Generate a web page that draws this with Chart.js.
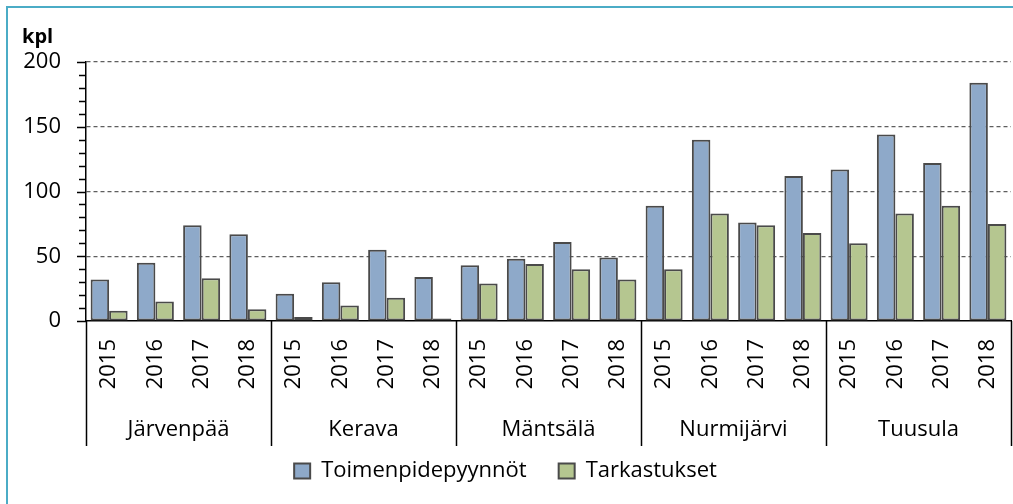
<!DOCTYPE html>
<html>
<head>
<meta charset="utf-8">
<script src="https://cdn.jsdelivr.net/npm/chart.js@4.4.1/dist/chart.umd.min.js"></script>
<style>
  html, body { margin: 0; padding: 0; background: #fff; }
  #wrap { width: 1013px; height: 504px; position: relative; }
</style>
</head>
<body>
<div id="wrap"><canvas id="chart"></canvas></div>
<script>
// Municipal inspection requests and inspections per year, grouped by town.

const towns = ['Järvenpää', 'Kerava', 'Mäntsälä', 'Nurmijärvi', 'Tuusula'];
const years = ['2015', '2016', '2017', '2018'];
const toimenpidepyynnot = [32, 45, 74, 67, 21, 30, 55, 34, 43, 48, 61, 49, 89, 140, 76, 112, 117, 144, 122, 184];
const tarkastukset = [8, 15, 33, 9, 3, 12, 18, 2, 29, 44, 40, 32, 40, 83, 74, 68, 60, 83, 89, 75];
const yTicks = [0, 50, 100, 150, 200];
const unitLabel = 'kpl';

const fontFamily = '"Open Sans", "DejaVu Sans", sans-serif';
const legendPadding = 32;

// one x label per year, repeated for every town
const labels = [];
towns.forEach(() => years.forEach(y => labels.push(y)));

// #region Extra drawing: frame, minor ticks, town groups, unit label
const decorPlugin = {
    id: 'decor',
    beforeInit(chart) {
        // fix the legend height so the plot area lands where it should
        const origFit = chart.legend.fit;
        chart.legend.fit = function() {
            origFit.call(this);
            this.height = 44 + legendPadding;
        };
    },
    afterDraw(chart) {
        const ctx = chart.ctx;
        const x = chart.scales.x;
        const y = chart.scales.y;
        const area = chart.chartArea;
        ctx.save();

        // light blue frame, top and left
        ctx.strokeStyle = '#4bacc6';
        ctx.lineWidth = 2;
        ctx.beginPath();
        ctx.moveTo(7, 504);
        ctx.lineTo(7, 7);
        ctx.lineTo(1013, 7);
        ctx.stroke();

        // y ticks, major and minor
        ctx.strokeStyle = '#000';
        ctx.lineWidth = 1.5;
        ctx.beginPath();
        for (let v = yTicks[0]; v <= yTicks[yTicks.length - 1]; v += 10) {
            const py = Math.round(y.getPixelForValue(v)) + 0.5;
            const len = v % 50 === 0 ? 9 : 7;
            ctx.moveTo(area.left - len, py);
            ctx.lineTo(area.left, py);
        }
        ctx.stroke();

        // town separators and names
        const groupBottom = 446;
        ctx.beginPath();
        for (let i = 0; i <= towns.length; i++) {
            const px = Math.round(x.getPixelForValue(i * years.length - 0.5)) + 0.5;
            ctx.moveTo(px, area.bottom);
            ctx.lineTo(px, groupBottom);
        }
        ctx.stroke();

        ctx.fillStyle = '#000';
        ctx.font = '22px ' + fontFamily;
        ctx.textAlign = 'center';
        ctx.textBaseline = 'middle';
        towns.forEach((town, i) => {
            const x0 = x.getPixelForValue(i * years.length - 0.5);
            const x1 = x.getPixelForValue((i + 1) * years.length - 0.5);
            ctx.fillText(town, (x0 + x1) / 2, 430);
        });

        // unit label above the axis
        ctx.font = 'bold 20px ' + fontFamily;
        ctx.textAlign = 'left';
        ctx.textBaseline = 'alphabetic';
        ctx.fillText(unitLabel, 22, 43);

        ctx.restore();
    }
};
// #endregion

const config = {
    type: 'bar',
    data: {
        labels: labels,
        datasets: [{
            label: 'Toimenpidepyynnöt',
            data: toimenpidepyynnot,
            backgroundColor: '#8ea9c9',
            borderColor: '#4a4a4a',
            borderWidth: 2,
            borderSkipped: false,
            categoryPercentage: 0.8,
            barPercentage: 1.0
        }, {
            label: 'Tarkastukset',
            data: tarkastukset,
            backgroundColor: '#b5c690',
            borderColor: '#4a4a4a',
            borderWidth: 2,
            borderSkipped: false,
            categoryPercentage: 0.8,
            barPercentage: 1.0
        }]
    },
    options: {
        responsive: true,
        maintainAspectRatio: false,
        animation: false,
        layout: {
            padding: { top: 62, right: 2, left: 0, bottom: 0 }
        },
        plugins: {
            legend: {
                position: 'bottom',
                labels: {
                    boxWidth: 16,
                    boxHeight: 15,
                    padding: legendPadding,
                    color: '#000',
                    font: { family: fontFamily, size: 22 }
                }
            },
            tooltip: { enabled: false }
        },
        scales: {
            x: {
                z: 1,
                afterFit(scale) {
                    // plot bottom at 321: 504 - legend - this height
                    scale.height = 504 - 321 - (44 + legendPadding);
                    scale.paddingLeft = 0;
                    scale.paddingRight = 0;
                },
                grid: { display: false, drawTicks: false },
                border: { display: true, color: '#000', width: 1.5 },
                ticks: {
                    autoSkip: false,
                    maxRotation: 90,
                    minRotation: 90,
                    padding: 18,
                    color: '#000',
                    font: { family: fontFamily, size: 22 }
                }
            },
            y: {
                z: 1,
                min: yTicks[0],
                max: yTicks[yTicks.length - 1],
                afterFit(scale) {
                    scale.width = 86;
                    scale.paddingTop = 0;
                    scale.paddingBottom = 0;
                },
                afterBuildTicks(scale) { scale.ticks = yTicks.map(v => ({ value: v })); },
                grid: {
                    drawTicks: false,
                    color: ctx => ctx.tick && ctx.tick.value === 0 ? 'rgba(0,0,0,0)' : 'rgba(40,40,40,0.75)',
                    lineWidth: 1.2
                },
                border: { display: true, color: '#000', width: 1.5, dash: [4, 3] },
                ticks: {
                    padding: 25,
                    color: '#000',
                    font: { family: fontFamily, size: 22 }
                }
            }
        }
    },
    plugins: [decorPlugin]
};

new Chart(document.getElementById('chart'), config);
</script>
</body>
</html>
